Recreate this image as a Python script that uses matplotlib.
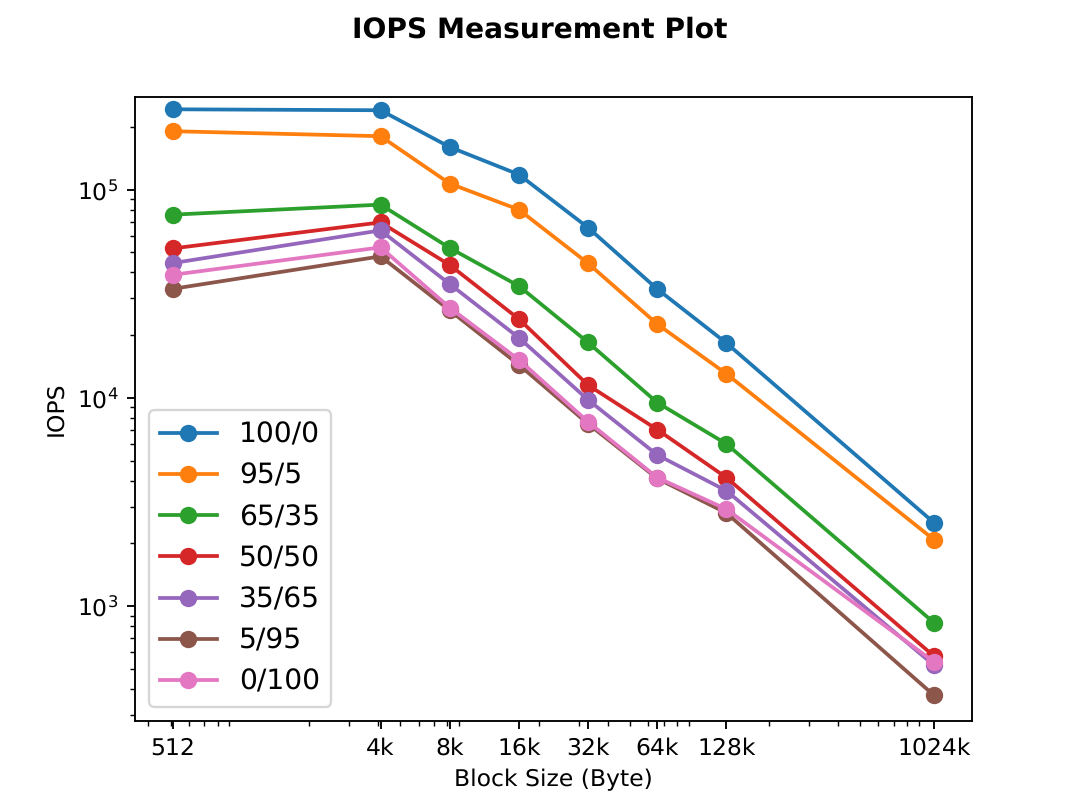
import matplotlib
matplotlib.use("Agg")
import matplotlib.pyplot as plt

plt.rcParams["text.hinting"] = "no_hinting"
plt.rcParams["lines.markersize"] = 6.4
plt.rcParams["lines.linewidth"] = 1.6

block_sizes = [512, 4096, 8192, 16384, 32768, 65536, 131072, 1048576]
tick_labels = ["512", "4k", "8k", "16k", "32k", "64k", "128k", "1024k"]

r100_w0 = [243000, 240500, 160100, 118100, 65650, 33300, 18320, 2515]
r95_w5 = [190700, 180500, 106900, 80100, 44240, 22600, 13040, 2084]
r65_w35 = [75800, 84700, 52440, 34430, 18450, 9490, 6010, 832]
r50_w50 = [52200, 69600, 43450, 23900, 11510, 7040, 4140, 575]
r35_w65 = [44400, 63700, 35200, 19430, 9780, 5320, 3580, 520]
r5_w95 = [33400, 47800, 26300, 14410, 7500, 4100, 2800, 373]
r0_w100 = [39000, 52800, 27100, 15230, 7670, 4140, 2920, 540]

plt.figure(figsize=(6.4, 4.8))
plt.plot(block_sizes, r100_w0, "o-", label="100/0")
plt.plot(block_sizes, r95_w5, "o-", label="95/5")
plt.plot(block_sizes, r65_w35, "o-", label="65/35")
plt.plot(block_sizes, r50_w50, "o-", label="50/50")
plt.plot(block_sizes, r35_w65, "o-", label="35/65")
plt.plot(block_sizes, r5_w95, "o-", label="5/95")
plt.plot(block_sizes, r0_w100, "o-", label="0/100")

plt.xscale("log")
plt.yscale("log")
plt.ylim(281, 277800)
plt.xticks(block_sizes, tick_labels)
plt.xlabel("Block Size (Byte)")
plt.ylabel("IOPS")
plt.suptitle("IOPS Measurement Plot", fontsize=12, fontweight="bold")
plt.legend(loc="lower left", fontsize=12, labelspacing=0.5)

plt.savefig("out.png", dpi=168.75)
